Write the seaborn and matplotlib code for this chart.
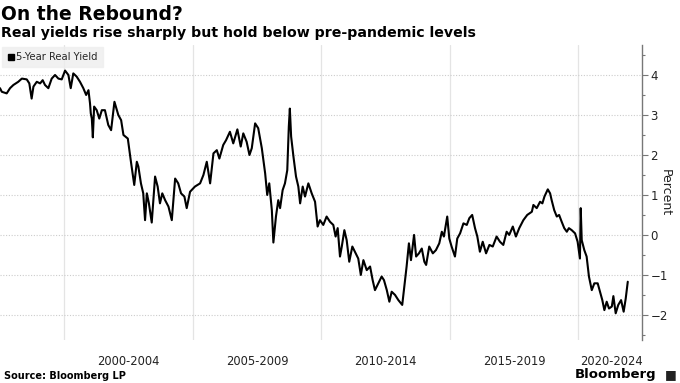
import numpy as np
import pandas as pd
import matplotlib
matplotlib.use("Agg")
import matplotlib.pyplot as plt
from matplotlib.ticker import MultipleLocator, FixedLocator, NullFormatter
from matplotlib.lines import Line2D
import seaborn as sns

# 5-year real yield (decimal year, percent)
years = [
    1997.51, 1997.58, 1997.77, 1997.90, 1998.03, 1998.22, 1998.36, 1998.55, 1998.65, 1998.74,
    1998.81, 1998.94, 1999.07, 1999.17, 1999.26, 1999.39, 1999.52, 1999.65, 1999.78, 1999.91,
    2000.04, 2000.17, 2000.26, 2000.36, 2000.49, 2000.62, 2000.75, 2000.86, 2000.95, 2001.01,
    2001.04, 2001.08, 2001.12, 2001.17, 2001.27, 2001.37, 2001.47, 2001.59, 2001.72, 2001.83,
    2001.96, 2002.11, 2002.22, 2002.31, 2002.48, 2002.61, 2002.73, 2002.83, 2002.89, 2002.99,
    2003.08, 2003.15, 2003.22, 2003.30, 2003.41, 2003.54, 2003.64, 2003.73, 2003.82, 2003.93,
    2004.06, 2004.19, 2004.32, 2004.44, 2004.55, 2004.68, 2004.77, 2004.90, 2005.09, 2005.29,
    2005.42, 2005.55, 2005.68, 2005.81, 2005.94, 2006.04, 2006.19, 2006.30, 2006.45, 2006.58,
    2006.74, 2006.87, 2006.97, 2007.10, 2007.21, 2007.30, 2007.43, 2007.55, 2007.69, 2007.82,
    2007.90, 2007.98, 2008.08, 2008.14, 2008.24, 2008.33, 2008.40, 2008.50, 2008.59, 2008.68,
    2008.74, 2008.78, 2008.83, 2008.92, 2009.02, 2009.11, 2009.18, 2009.28, 2009.37, 2009.50,
    2009.63, 2009.76, 2009.86, 2009.95, 2010.08, 2010.21, 2010.34, 2010.47, 2010.56, 2010.64,
    2010.73, 2010.80, 2010.90, 2010.99, 2011.09, 2011.21, 2011.31, 2011.44, 2011.54, 2011.64,
    2011.77, 2011.90, 2012.00, 2012.09, 2012.22, 2012.35, 2012.44, 2012.55, 2012.65, 2012.74,
    2012.87, 2013.00, 2013.15, 2013.23, 2013.32, 2013.41, 2013.49, 2013.61, 2013.69, 2013.80,
    2013.91, 2014.01, 2014.08, 2014.20, 2014.34, 2014.46, 2014.59, 2014.69, 2014.77, 2014.90,
    2014.98, 2015.07, 2015.20, 2015.29, 2015.40, 2015.53, 2015.66, 2015.76, 2015.87, 2015.98,
    2016.07, 2016.17, 2016.28, 2016.41, 2016.54, 2016.67, 2016.82, 2016.95, 2017.08, 2017.21,
    2017.31, 2017.45, 2017.57, 2017.70, 2017.86, 2018.01, 2018.19, 2018.25, 2018.38, 2018.51,
    2018.60, 2018.68, 2018.81, 2018.90, 2018.96, 2019.06, 2019.16, 2019.25, 2019.35, 2019.45,
    2019.55, 2019.63, 2019.74, 2019.87, 2019.97, 2020.06, 2020.09, 2020.13, 2020.23, 2020.32,
    2020.41, 2020.52, 2020.62, 2020.75, 2020.84, 2020.93, 2021.01, 2021.10, 2021.19, 2021.30,
    2021.36, 2021.45, 2021.55, 2021.66, 2021.76, 2021.84, 2021.92,
]
real_yield = [
    3.66, 3.57, 3.53, 3.66, 3.74, 3.82, 3.90, 3.88, 3.78, 3.40,
    3.70, 3.82, 3.78, 3.86, 3.74, 3.66, 3.90, 3.99, 3.90, 3.88,
    4.10, 3.99, 3.66, 4.03, 3.95, 3.82, 3.66, 3.49, 3.61, 3.28,
    3.03, 2.90, 2.43, 3.20, 3.11, 2.90, 3.11, 3.11, 2.74, 2.61,
    3.32, 2.99, 2.86, 2.49, 2.40, 1.78, 1.24, 1.82, 1.70, 1.28,
    1.03, 0.36, 1.03, 0.78, 0.30, 1.45, 1.20, 0.78, 1.03, 0.86,
    0.70, 0.36, 1.40, 1.28, 1.03, 0.95, 0.66, 1.07, 1.20, 1.28,
    1.49, 1.82, 1.28, 2.03, 2.11, 1.90, 2.24, 2.36, 2.57, 2.28,
    2.63, 2.20, 2.53, 2.32, 1.99, 2.16, 2.78, 2.66, 2.16, 1.53,
    0.99, 1.28, 0.61, -0.20, 0.45, 0.86, 0.66, 1.11, 1.28, 1.61,
    2.70, 3.15, 2.45, 1.95, 1.45, 1.20, 0.78, 1.20, 0.95, 1.28,
    1.03, 0.82, 0.20, 0.36, 0.24, 0.45, 0.32, 0.24, -0.05, 0.16,
    -0.55, -0.30, 0.11, -0.14, -0.68, -0.30, -0.43, -0.60, -1.01, -0.64,
    -0.89, -0.80, -1.14, -1.39, -1.22, -1.05, -1.14, -1.39, -1.68, -1.43,
    -1.51, -1.64, -1.76, -1.30, -0.80, -0.22, -0.64, -0.01, -0.55, -0.47,
    -0.35, -0.68, -0.76, -0.30, -0.47, -0.39, -0.22, 0.07, -0.05, 0.45,
    -0.10, -0.30, -0.55, -0.10, 0.03, 0.28, 0.24, 0.41, 0.49, 0.16,
    -0.05, -0.43, -0.18, -0.47, -0.26, -0.30, -0.05, -0.18, -0.26, 0.07,
    -0.01, 0.20, -0.05, 0.16, 0.36, 0.49, 0.57, 0.74, 0.66, 0.82,
    0.78, 0.95, 1.13, 1.03, 0.86, 0.61, 0.45, 0.49, 0.32, 0.16,
    0.07, 0.16, 0.11, 0.03, -0.18, -0.60, 0.66, -0.14, -0.39, -0.55,
    -1.05, -1.39, -1.22, -1.22, -1.43, -1.64, -1.89, -1.68, -1.85, -1.80,
    -1.54, -1.97, -1.76, -1.64, -1.93, -1.60, -1.18,
]

period_edges = [2000, 2005, 2010, 2015, 2020]
period_labels = ["2000-2004", "2005-2009", "2010-2014", "2015-2019", "2020-2024"]
period_label_pos = [2002.5, 2007.5, 2012.5, 2017.5, 2021.3]

df = pd.DataFrame({"year": years, "yield": real_yield})

sns.set_style("white")
plt.rcParams["font.family"] = ["DejaVu Sans"]

fig = plt.figure(figsize=(6.8, 3.83), dpi=100)
ax = fig.add_axes([0.0, 0.112, 0.944, 0.7705])

sns.lineplot(data=df, x="year", y="yield", ax=ax, color="black", lw=1.5,
             estimator=None, sort=False)

ax.set_xlim(1997.51, 2022.47)
ax.set_ylim(-2.64, 4.74)

# vertical period separators + centred period labels
ax.xaxis.set_major_locator(FixedLocator(period_edges))
ax.xaxis.set_major_formatter(NullFormatter())
ax.xaxis.set_minor_locator(FixedLocator(period_label_pos))
ax.set_xticklabels(period_labels, minor=True)
ax.tick_params(axis="x", which="both", length=0, labelsize=8.3, pad=11, colors="#222222")
ax.grid(axis="x", which="major", color="#e4e4e4", lw=0.9, ls="-")

# right-hand percent axis
ax.yaxis.tick_right()
ax.yaxis.set_label_position("right")
ax.yaxis.set_major_locator(MultipleLocator(1))
ax.yaxis.set_minor_locator(MultipleLocator(0.5))
ax.tick_params(axis="y", which="major", length=4, width=0.8, color="#777777",
               labelsize=8.5, pad=2, labelcolor="#222222")
ax.tick_params(axis="y", which="minor", length=2, width=0.8, color="#777777")
ax.grid(axis="y", which="major", color="#cccccc", lw=0.8, ls=(0, (1, 1.5)))
ax.set_ylabel("Percent", rotation=270, fontsize=9, labelpad=3, color="#222222")
ax.set_xlabel("")

for side in ["left", "top", "bottom"]:
    ax.spines[side].set_visible(False)
ax.spines["right"].set_color("#777777")
ax.spines["right"].set_linewidth(1.0)

handle = Line2D([], [], color="black", marker="s", ls="none", markersize=4.5)
leg = ax.legend([handle], ["5-Year Real Yield"], loc="upper left",
                bbox_to_anchor=(0.0, 1.0), fontsize=7.2, frameon=True,
                fancybox=False, handletextpad=0.1, borderpad=0.5,
                handlelength=0.8, borderaxespad=0.2)
leg.get_frame().set_facecolor("#eeeeee")
leg.get_frame().set_edgecolor("#eeeeee")

fig.text(0.002, 0.962, "On the Rebound?", fontsize=13.5, fontweight="bold",
         va="center", ha="left", color="black")
fig.text(0.002, 0.914, "Real yields rise sharply but hold below pre-pandemic levels",
         fontsize=10.2, fontweight="bold", va="center", ha="left", color="black")
fig.text(0.006, 0.018, "Source: Bloomberg LP", fontsize=7, fontweight="bold",
         va="center", ha="left", color="black")
fig.text(0.965, 0.022, "Bloomberg", fontsize=9.5, va="center", ha="right",
         color="black", fontweight="bold")
fig.text(0.995, 0.022, "\u25a0", fontsize=9, va="center", ha="right", color="#222222")

fig.savefig("out.png", dpi=100)
